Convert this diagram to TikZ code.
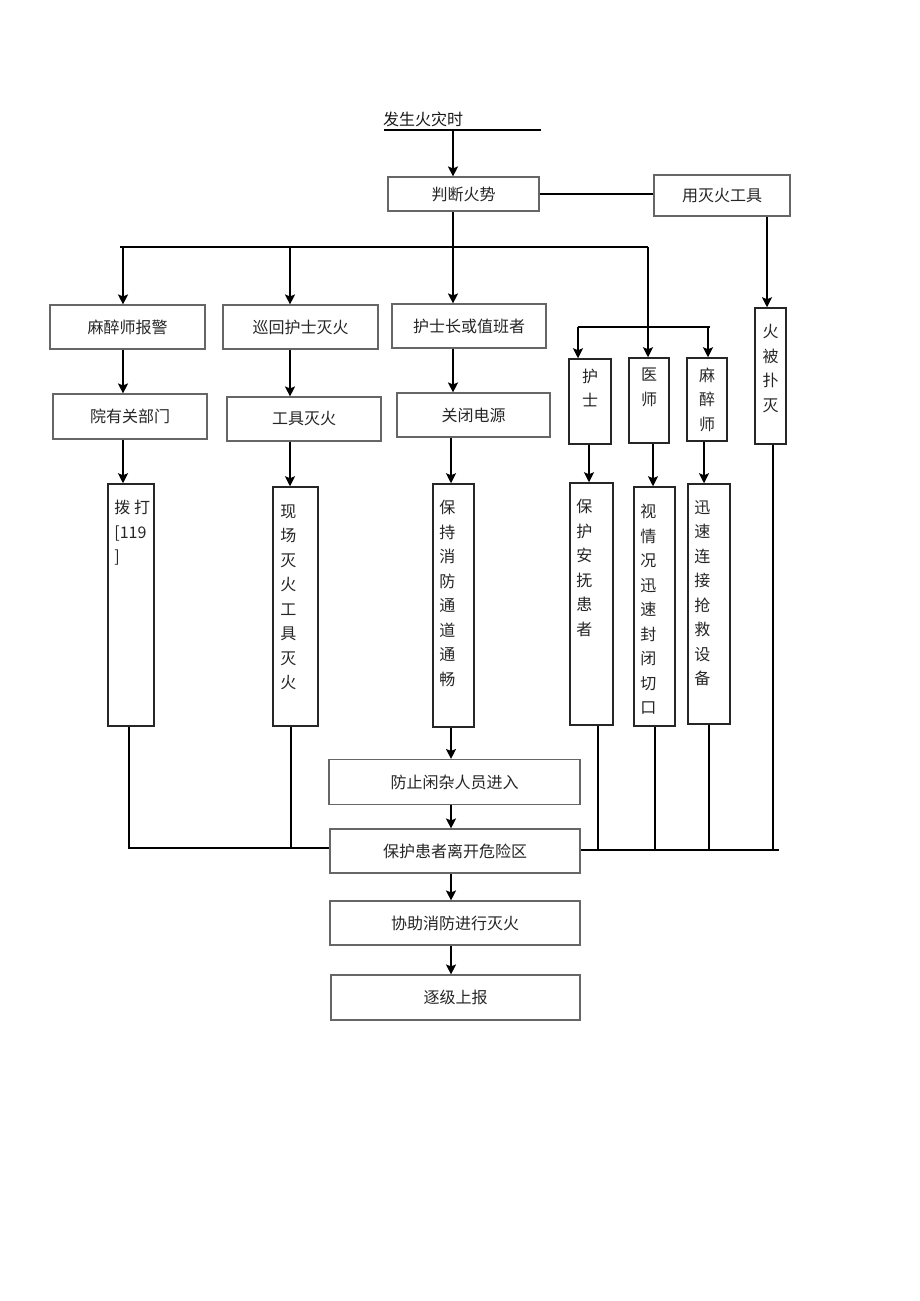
\documentclass[tikz,border=0pt]{standalone}
\usepackage{fontspec}
\setmainfont{Noto Sans CJK SC}
\usetikzlibrary{arrows.meta}
\newcommand\boxfont{\fontsize{16pt}{24.5pt}\selectfont}
\tikzset{
  box/.style={draw=black!60, line width=1.1pt, inner sep=0pt, font=\boxfont, text=black!85},
  tallbox/.style={draw=black!85, line width=1.5pt, inner sep=0pt},
  vtext/.style={inner sep=0pt, align=center, font=\boxfont, text=black!85},
  conn/.style={line width=1.5pt, black},
  arr/.style={conn, -{Stealth[length=10pt,width=10pt,inset=2pt]}}
}
\begin{document}
\begin{tikzpicture}[x=1pt,y=-1pt]
\useasboundingbox[fill=white] (0,0) rectangle (920,1301);

% title
\node[anchor=west, inner sep=0pt, font=\boxfont, text=black!90] (title) at (383,119) {发生火灾时};
\coordinate (ulL) at (384,130);
\coordinate (ulR) at (541,130);
\draw[conn, line width=1.2pt] (ulL) -- (ulR);

% first level
\node[box, minimum width=151, minimum height=34] (judge) at (463.5,194) {判断火势};
\node[box, minimum width=136, minimum height=41] (tool) at (722,195.5) {用灭火工具};

% second level
\node[box, minimum width=155, minimum height=44] (anes) at (127.5,327) {麻醉师报警};
\node[box, minimum width=155, minimum height=44] (circ) at (300.5,327) {巡回护士灭火};
\node[box, minimum width=154, minimum height=44] (nurseH) at (469,326) {护士长或值班者};
\node[tallbox, minimum width=42, minimum height=85] (nurse) at (590,401.5) {};
\node[tallbox, minimum width=40, minimum height=85] (doctor) at (649,400.5) {};
\node[tallbox, minimum width=40, minimum height=83] (anes2) at (707,399.5) {};
\node[tallbox, minimum width=31, minimum height=136] (fireout) at (770.5,376) {};
\node[vtext, anchor=north] (tnurse) at ([yshift=-10.5pt]nurse.north) {护\\士};
\node[vtext, anchor=north] (tdoctor) at ([yshift=-10.5pt]doctor.north) {医\\师};
\node[vtext, anchor=north] (tanes2) at ([yshift=-10.5pt]anes2.north) {麻\\醉\\师};
\node[vtext, anchor=north] (tfireout) at ([yshift=-17pt]fireout.north) {火\\被\\扑\\灭};

% third level
\node[box, minimum width=154, minimum height=45] (dept) at (130,416.5) {院有关部门};
\node[box, minimum width=154, minimum height=44] (tools) at (304,419) {工具灭火};
\node[box, minimum width=153, minimum height=44] (power) at (473.5,415) {关闭电源};

% tall boxes
\node[tallbox, minimum width=46, minimum height=242] (call) at (131,605) {};
\node[tallbox, minimum width=45, minimum height=239] (scene) at (295.5,606.5) {};
\node[tallbox, minimum width=41, minimum height=243] (keep) at (453.5,605.5) {};
\node[tallbox, minimum width=43, minimum height=242] (comfort) at (591.5,604) {};
\node[tallbox, minimum width=41, minimum height=239] (seal) at (654.5,606.5) {};
\node[tallbox, minimum width=42, minimum height=240] (equip) at (709,604) {};
\node[vtext, anchor=north west, align=left] (tcall) at ([xshift=7pt,yshift=-17pt]call.north west) {拨 打\\{}[119\\{}]};
\node[vtext, anchor=north west] (tscene) at ([xshift=8pt,yshift=-18pt]scene.north west) {现\\场\\灭\\火\\工\\具\\灭\\火};
\node[vtext, anchor=north west] (tkeep) at ([xshift=7pt,yshift=-17pt]keep.north west) {保\\持\\消\\防\\通\\道\\通\\畅};
\node[vtext, anchor=north west] (tcomfort) at ([xshift=7pt,yshift=-17pt]comfort.north west) {保\\护\\安\\抚\\患\\者};
\node[vtext, anchor=north west] (tseal) at ([xshift=7pt,yshift=-18pt]seal.north west) {视\\情\\况\\迅\\速\\封\\闭\\切\\口};
\node[vtext, anchor=north west] (tequip) at ([xshift=7pt,yshift=-17pt]equip.north west) {迅\\速\\连\\接\\抢\\救\\设\\备};

% bottom chain
\node[box, minimum width=251, minimum height=45] (prevent) at (454.5,782) {防止闲杂人员进入};
\node[box, minimum width=250, minimum height=44] (protect) at (455,851) {保护患者离开危险区};
\node[box, minimum width=250, minimum height=44] (assist) at (455,923) {协助消防进行灭火};
\node[box, minimum width=249, minimum height=45] (report) at (455.5,997.5) {逐级上报};

% column coordinates
\coordinate (cL) at (120,247);
\coordinate (c1) at (123,247);
\coordinate (c2) at (290,247);
\coordinate (c3) at (453,247);
\coordinate (cR) at (648,247);
\coordinate (c3b) at (451,0);
\coordinate (c4) at (589,0);
\coordinate (c5) at (653,0);
\coordinate (c6) at (704,0);
\coordinate (c7) at (767,0);
\coordinate (sL) at (578,327);
\coordinate (sA) at (708,327);
\coordinate (sR) at (710,327);
\coordinate (jL) at (129,848);
\coordinate (c2b) at (291,0);
\coordinate (jR) at (779,850);
\coordinate (d4) at (598,0);
\coordinate (d5) at (655,0);
\coordinate (d6) at (709,0);
\coordinate (d7) at (773,0);

% connectors top
\draw[arr] (c3 |- ulL) -- (c3 |- judge.north);
\draw[conn] (judge.east) -- (judge.east -| tool.west);
\draw[conn] (cL) -- (cR);
\draw[arr] (c3 |- judge.south) -- (c3 |- nurseH.north);
\draw[arr] (c1) -- (c1 |- anes.north);
\draw[arr] (c2) -- (c2 |- circ.north);
\draw[arr] (cR) -- (cR |- doctor.north);
\draw[conn] (sL) -- (sR);
\draw[arr] (sL) -- (sL |- nurse.north);
\draw[arr] (sA) -- (sA |- anes2.north);
\draw[arr] (c7 |- tool.south) -- (c7 |- fireout.north);

% connectors middle
\draw[arr] (c1 |- anes.south) -- (c1 |- dept.north);
\draw[arr] (c1 |- dept.south) -- (c1 |- call.north);
\draw[arr] (c2 |- circ.south) -- (c2 |- tools.north);
\draw[arr] (c2 |- tools.south) -- (c2 |- scene.north);
\draw[arr] (c3 |- nurseH.south) -- (c3 |- power.north);
\draw[arr] (c3b |- power.south) -- (c3b |- keep.north);
\draw[arr] (c4 |- nurse.south) -- (c4 |- comfort.north);
\draw[arr] (c5 |- doctor.south) -- (c5 |- seal.north);
\draw[arr] (c6 |- anes2.south) -- (c6 |- equip.north);

% connectors bottom
\draw[arr] (c3b |- keep.south) -- (c3b |- prevent.north);
\draw[arr] (c3b |- prevent.south) -- (c3b |- protect.north);
\draw[arr] (c3b |- protect.south) -- (c3b |- assist.north);
\draw[arr] (c3b |- assist.south) -- (c3b |- report.north);
\draw[conn, line width=1.3pt] (jL |- call.south) -- (jL) -- (jL -| protect.west);
\draw[conn, line width=1.3pt] (c2b |- scene.south) -- (c2b |- jL);
\draw[conn, line width=1.3pt] (protect.east |- jR) -- (jR);
\draw[conn, line width=1.3pt] (d4 |- comfort.south) -- (d4 |- jR);
\draw[conn, line width=1.3pt] (d5 |- seal.south) -- (d5 |- jR);
\draw[conn, line width=1.3pt] (d6 |- equip.south) -- (d6 |- jR);
\draw[conn, line width=1.3pt] (d7 |- fireout.south) -- (d7 |- jR);
\end{tikzpicture}
\end{document}
